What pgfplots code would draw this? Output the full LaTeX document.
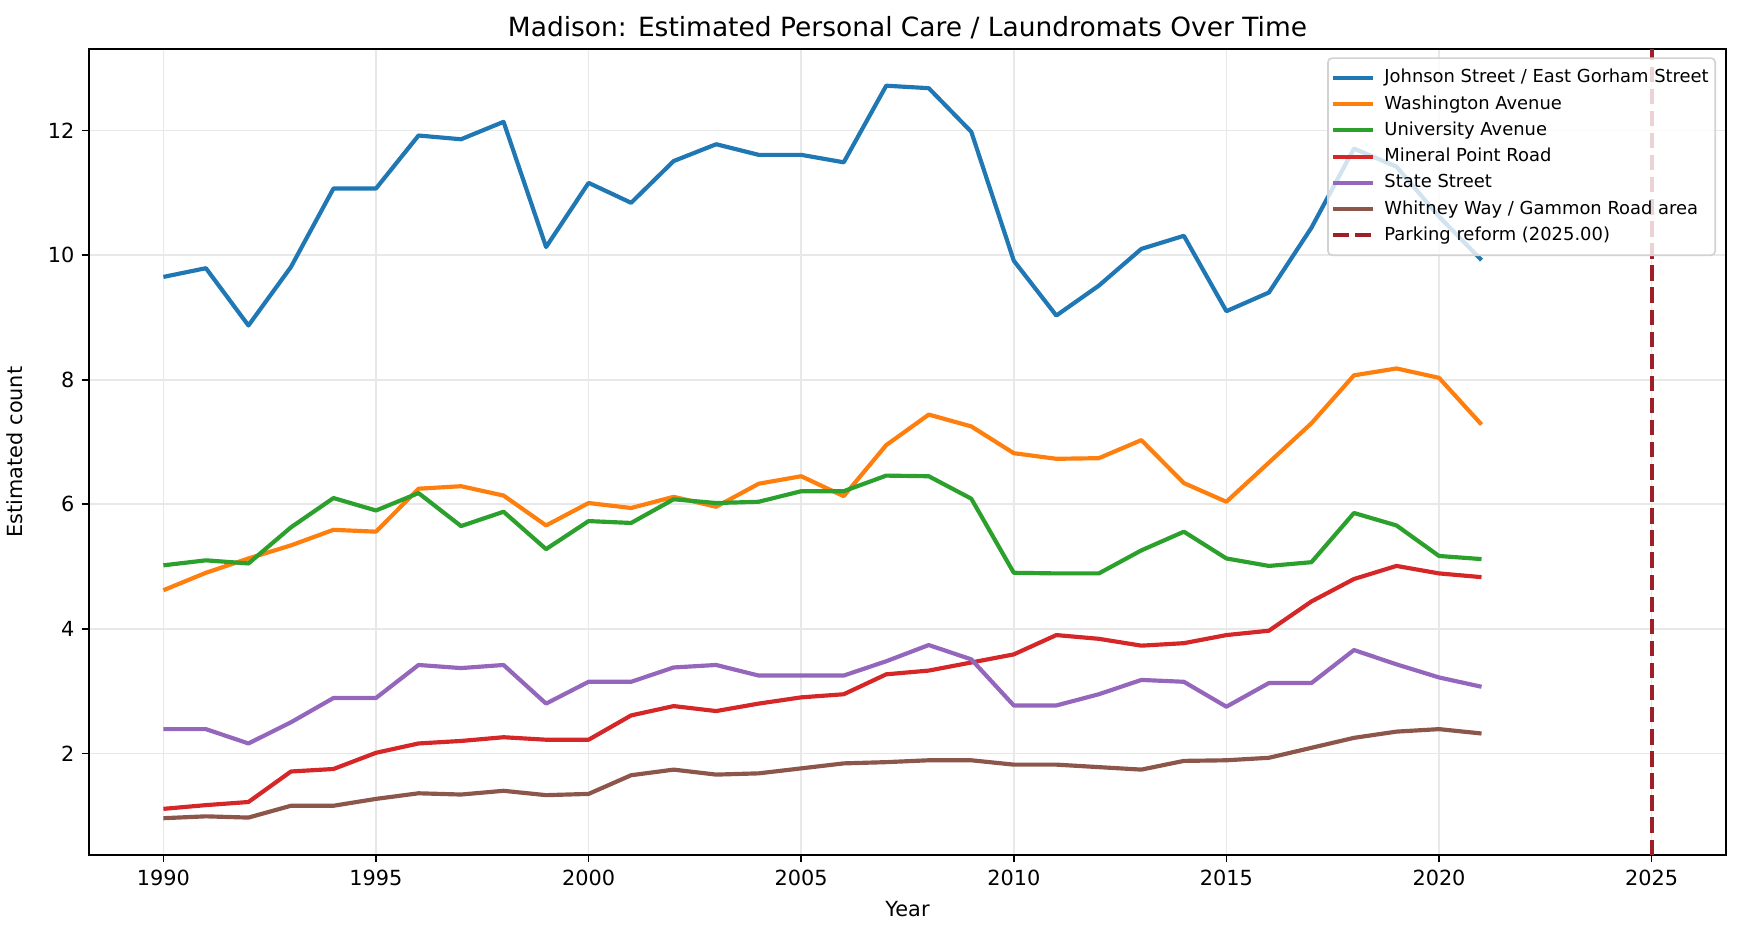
\documentclass[border=0pt]{standalone}
\usepackage{fontspec}
\setmainfont{DejaVu Sans}
\usepackage{pgfplots}
\usepackage{pgfplotstable}
\pgfplotsset{compat=1.18}

\definecolor{c0}{HTML}{1F77B4}
\definecolor{c1}{HTML}{FF7F0E}
\definecolor{c2}{HTML}{2CA02C}
\definecolor{c3}{HTML}{D62728}
\definecolor{c4}{HTML}{9467BD}
\definecolor{c5}{HTML}{8C564B}
\definecolor{reform}{HTML}{9F1F29}

% estimated counts per corridor
\pgfplotstableread{
year johnson washington university mineral state whitney
1990 9.65  4.62 5.02 1.11 2.39 0.96
1991 9.79  4.90 5.10 1.17 2.39 0.99
1992 8.87  5.13 5.05 1.22 2.16 0.97
1993 9.81  5.34 5.63 1.71 2.50 1.16
1994 11.07 5.59 6.10 1.75 2.89 1.16
1995 11.07 5.56 5.90 2.01 2.89 1.27
1996 11.92 6.25 6.18 2.16 3.42 1.36
1997 11.86 6.29 5.65 2.20 3.37 1.34
1998 12.14 6.14 5.88 2.26 3.42 1.40
1999 10.13 5.66 5.28 2.22 2.80 1.33
2000 11.16 6.02 5.73 2.22 3.15 1.35
2001 10.84 5.94 5.70 2.61 3.15 1.65
2002 11.51 6.12 6.08 2.76 3.38 1.74
2003 11.78 5.96 6.02 2.68 3.42 1.66
2004 11.61 6.33 6.04 2.80 3.25 1.68
2005 11.61 6.45 6.21 2.90 3.25 1.76
2006 11.49 6.13 6.21 2.95 3.25 1.84
2007 12.72 6.95 6.46 3.27 3.48 1.86
2008 12.68 7.44 6.45 3.33 3.74 1.89
2009 11.98 7.25 6.09 3.46 3.51 1.89
2010 9.91  6.82 4.90 3.59 2.77 1.82
2011 9.03  6.73 4.89 3.90 2.77 1.82
2012 9.51  6.74 4.89 3.84 2.95 1.78
2013 10.10 7.03 5.26 3.73 3.18 1.74
2014 10.31 6.34 5.56 3.77 3.15 1.88
2015 9.10  6.04 5.13 3.90 2.75 1.89
2016 9.40  6.67 5.01 3.97 3.13 1.93
2017 10.44 7.30 5.07 4.44 3.13 2.09
2018 11.71 8.07 5.86 4.80 3.66 2.25
2019 11.42 8.18 5.66 5.01 3.43 2.35
2020 10.62 8.03 5.17 4.89 3.22 2.39
2021 9.92  7.28 5.12 4.83 3.07 2.32
}\datatable

\begin{document}
\begin{tikzpicture}
	\begin{axis}[
		scale only axis,
		width=785.8pt,
		height=386.9pt,
		xmin=1988.25, xmax=2026.75,
		ymin=0.37, ymax=13.31,
		xtick={1990,1995,...,2025},
		ytick={2,4,...,12},
		/pgf/number format/1000 sep={},
		/pgf/number format/assume math mode=true,
		tick label style={font=\fontsize{10}{12}\selectfont},
		xtick pos=bottom,
		ytick pos=left,
		tick align=outside,
		major tick length=3.5pt,
		major tick style={black, line width=0.8pt},
		axis line style={black, line width=0.8pt},
		grid=major,
		grid style={line width=0.8pt, draw=gray!18},
		title={Madison: Estimated Personal Care / Laundromats Over Time},
		% pgfplots already lifts the title by 6pt
		title style={font=\fontsize{12.7}{14}\selectfont, at={(axis description cs:0.5,1)}, anchor=base},
		xlabel={Year},
		ylabel={Estimated count},
		label style={font=\fontsize{10}{12}\selectfont},
		xlabel style={at={(axis description cs:0.5,-0.067)}, anchor=center},
		ylabel style={at={(axis description cs:-0.0452,0.5)}, anchor=center},
		every axis plot/.append style={line width=2pt, line join=round},
		legend image code/.code={\draw[#1] (0pt,0pt) -- (19pt,0pt);},
		legend cell align=left,
		legend style={
			at={(1,1)}, anchor=north east, xshift=-4.8pt, yshift=-4pt,
			fill=white, fill opacity=0.8, draw opacity=1, text opacity=1,
			draw=gray!35, line width=0.8pt, rounded corners=2pt,
			font=\fontsize{8.6}{10}\selectfont,
			nodes={text height=6.8pt, text depth=2pt, inner sep=1.6pt},
			/tikz/every odd column/.append style={column sep=3pt},
			row sep=0.6pt, inner xsep=1.5pt, inner ysep=3.5pt
		},
		]
		
		\addplot[c0] table[x=year, y=johnson] {\datatable};
		\addlegendentry{Johnson Street / East Gorham Street}
		\addplot[c1] table[x=year, y=washington] {\datatable};
		\addlegendentry{Washington Avenue}
		\addplot[c2] table[x=year, y=university] {\datatable};
		\addlegendentry{University Avenue}
		\addplot[c3] table[x=year, y=mineral] {\datatable};
		\addlegendentry{Mineral Point Road}
		\addplot[c4] table[x=year, y=state] {\datatable};
		\addlegendentry{State Street}
		\addplot[c5] table[x=year, y=whitney] {\datatable};
		\addlegendentry{Whitney Way / Gammon Road area}
		
		% reform year marker
		\addplot[reform, dash pattern=on 7.4pt off 3.2pt] coordinates {(2025,0.37) (2025,13.31)};
		\addlegendentry{Parking reform (2025.00)}
		
	\end{axis}
	% fix the margins round the axis box
	\path (current axis.south west) ++(-42.7pt,-38.9pt) rectangle ([shift={(7.2pt,23.5pt)}]current axis.north east);
\end{tikzpicture}
\end{document}
